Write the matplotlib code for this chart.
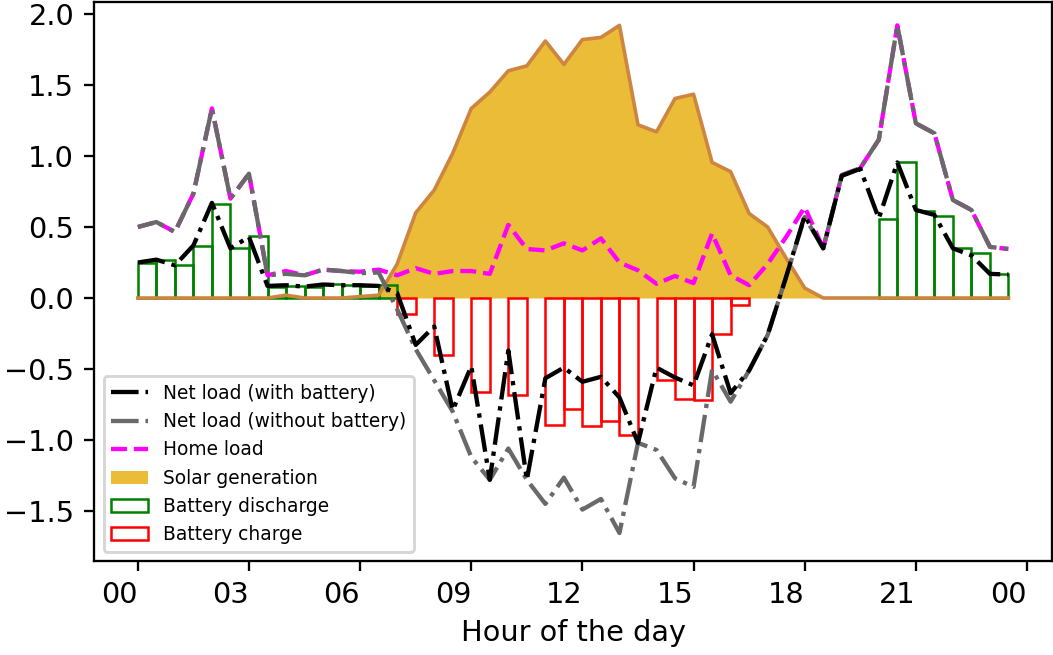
import numpy as np
import matplotlib
matplotlib.use("Agg")
import matplotlib.pyplot as plt

# Half-hourly time stamps (hours of the day)
hours = np.arange(48) * 0.5

home_load = [0.50, 0.535, 0.465, 0.735, 1.335, 0.70, 0.875, 0.16,
             0.19, 0.16, 0.20, 0.19, 0.185, 0.20, 0.16, 0.21,
             0.17, 0.19, 0.19, 0.17, 0.515, 0.345, 0.335, 0.385,
             0.335, 0.42, 0.25, 0.195, 0.10, 0.155, 0.105, 0.455,
             0.16, 0.09, 0.24, 0.43, 0.64, 0.35, 0.865, 0.915,
             1.115, 1.92, 1.23, 1.16, 0.69, 0.62, 0.36, 0.345]

solar_gen = [0.0, 0.0, 0.0, 0.0, 0.0, 0.0, 0.0, 0.0,
             0.02, 0.0, 0.0, 0.0, 0.01, 0.02, 0.24, 0.60,
             0.76, 1.02, 1.335, 1.45, 1.60, 1.635, 1.81, 1.645,
             1.82, 1.835, 1.92, 1.22, 1.17, 1.405, 1.435, 0.955,
             0.89, 0.595, 0.50, 0.28, 0.07, 0.0, 0.0, 0.0,
             0.0, 0.0, 0.0, 0.0, 0.0, 0.0, 0.0, 0.0]

net_no_batt = [0.50, 0.535, 0.465, 0.735, 1.335, 0.70, 0.875, 0.16,
               0.17, 0.16, 0.20, 0.19, 0.175, 0.18, -0.08, -0.36,
               -0.58, -0.80, -1.12, -1.28, -1.06, -1.28, -1.45, -1.265,
               -1.49, -1.415, -1.655, -1.02, -1.07, -1.27, -1.33, -0.505,
               -0.73, -0.51, -0.26, 0.15, 0.57, 0.35, 0.865, 0.915,
               1.115, 1.92, 1.23, 1.16, 0.69, 0.62, 0.36, 0.345]

net_with_batt = [0.25, 0.27, 0.23, 0.37, 0.67, 0.35, 0.43, 0.085,
                 0.09, 0.08, 0.095, 0.09, 0.09, 0.085, 0.035, -0.33,
                 -0.20, -0.79, -0.48, -1.28, -0.37, -1.28, -0.565, -0.49,
                 -0.59, -0.555, -0.70, -1.02, -0.49, -0.56, -0.615, -0.255,
                 -0.67, -0.51, -0.26, 0.15, 0.58, 0.35, 0.86, 0.91,
                 0.56, 0.955, 0.62, 0.585, 0.35, 0.30, 0.17, 0.165]

discharge = [0.25, 0.265, 0.235, 0.365, 0.665, 0.355, 0.435, 0.08,
             0.085, 0.08, 0.10, 0.095, 0.085, 0.09, 0.0, 0.0,
             0.0, 0.0, 0.0, 0.0, 0.0, 0.0, 0.0, 0.0,
             0.0, 0.0, 0.0, 0.0, 0.0, 0.0, 0.0, 0.0,
             0.0, 0.0, 0.0, 0.0, 0.0, 0.0, 0.0, 0.0,
             0.555, 0.955, 0.615, 0.575, 0.35, 0.32, 0.17, 0.0]

charge = [0.0, 0.0, 0.0, 0.0, 0.0, 0.0, 0.0, 0.0,
          0.0, 0.0, 0.0, 0.0, 0.0, 0.0, 0.115, 0.0,
          0.40, 0.0, 0.665, 0.0, 0.685, 0.0, 0.895, 0.78,
          0.90, 0.865, 0.965, 0.0, 0.58, 0.71, 0.715, 0.255,
          0.05, 0.0, 0.0, 0.0, 0.0, 0.0, 0.0, 0.0,
          0.0, 0.0, 0.0, 0.0, 0.0, 0.0, 0.0, 0.0]

tick_hours = [0, 3, 6, 9, 12, 15, 18, 21, 24]
tick_labels = ["00", "03", "06", "09", "12", "15", "18", "21", "00"]

S = 2.07  # size scale (points)
plt.rcParams.update({
    "font.family": "DejaVu Sans",
    "font.size": 10 * S,
    "axes.linewidth": 0.8 * S,
    "xtick.major.size": 3.5 * S,
    "ytick.major.size": 3.5 * S,
    "xtick.major.width": 0.8 * S,
    "ytick.major.width": 0.8 * S,
    "xtick.major.pad": 3.5 * S,
    "ytick.major.pad": 3.5 * S,
    "patch.linewidth": 1.0 * S,
})

fig = plt.figure(figsize=(10.53, 6.55), dpi=100)
ax = fig.add_axes([94.3 / 1053, 1 - 561 / 655, (1052 - 94.3) / 1053, (561 - 1.5) / 655])

hours_arr = np.asarray(hours)
dis = np.asarray(discharge)
chg = np.asarray(charge)

# Battery flows as outlined bars covering each half-hour slot
d_mask = dis > 0
c_mask = chg > 0
ax.bar(hours_arr[d_mask], dis[d_mask], width=0.5, align="edge",
       facecolor="none", edgecolor="green", linewidth=1.8,
       label="Battery discharge", zorder=1)
ax.bar(hours_arr[c_mask], -chg[c_mask], width=0.5, align="edge",
       facecolor="none", edgecolor="red", linewidth=1.8,
       label="Battery charge", zorder=1)

# Solar generation area with its outline
ax.fill_between(hours, 0, solar_gen, color="#EBBC37", linewidth=0,
                label="Solar generation", zorder=0.9)
ax.plot(hours, solar_gen, color="#CD853F", linewidth=2.6, zorder=1.5)

lw = 1.5 * S
l_home, = ax.plot(hours, home_load, color="magenta", linestyle="--",
                  linewidth=lw, label="Home load", zorder=2)
l_nob, = ax.plot(hours, net_no_batt, color="dimgray", linestyle="-.",
                 linewidth=lw, label="Net load (without battery)", zorder=2.1)
l_net, = ax.plot(hours, net_with_batt, color="black", linestyle="-.",
                 linewidth=lw, label="Net load (with battery)", zorder=2.2)

ax.set_ylim(-1.852, 2.088)
ax.set_yticks([-1.5, -1.0, -0.5, 0.0, 0.5, 1.0, 1.5, 2.0])
ax.set_xticks(tick_hours)
ax.set_xticklabels(tick_labels, ha="right")
ax.set_xlabel("Hour of the day", labelpad=3.5 * S)

handles, labels = ax.get_legend_handles_labels()
order = ["Net load (with battery)", "Net load (without battery)", "Home load",
         "Solar generation", "Battery discharge", "Battery charge"]
hmap = dict(zip(labels, handles))
ax.legend([hmap[k] for k in order], order, loc="lower left", fontsize=13.4)

fig.savefig("out.png", dpi=100)
